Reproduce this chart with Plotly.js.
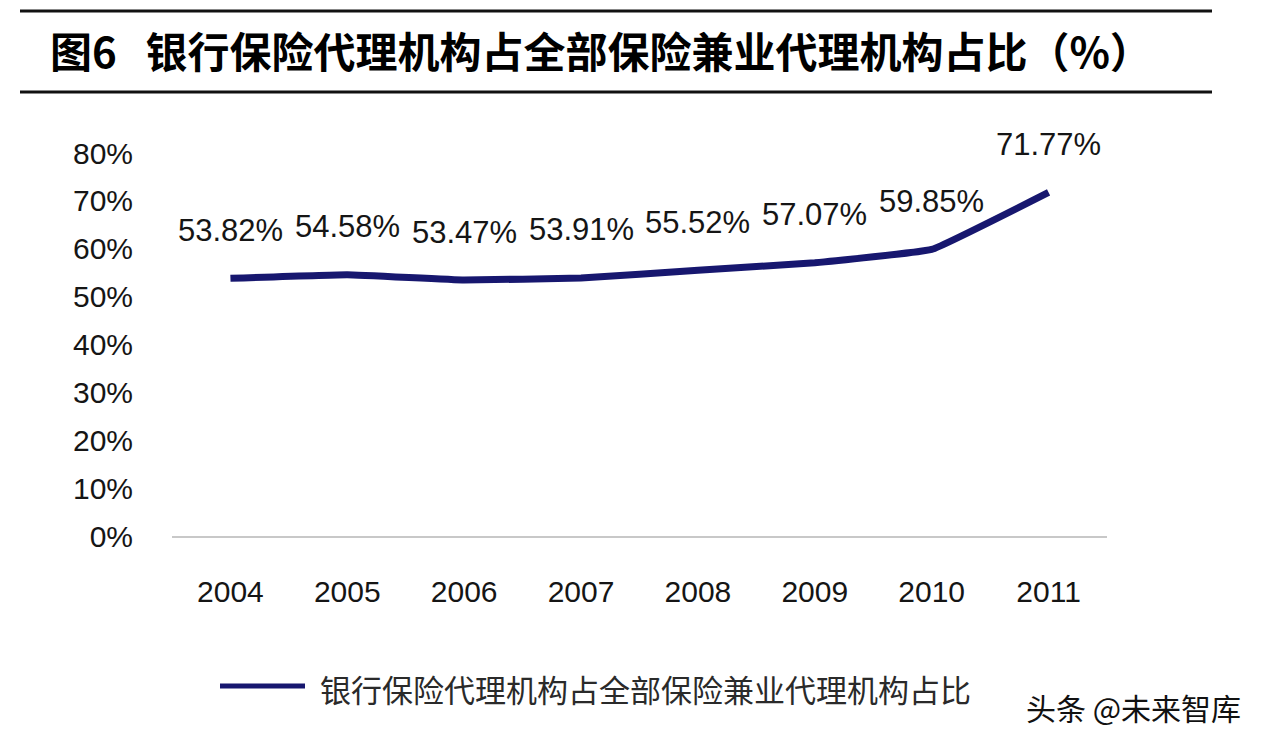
<!DOCTYPE html>
<html>
<head>
<meta charset="utf-8">
<script src="https://cdn.plot.ly/plotly-3.0.1.min.js"></script>
<style>html,body{margin:0;padding:0;background:#fff;}#chart{width:1280px;height:742px;}</style>
</head>
<body>
<div id="chart"></div>
<script>
// ---- data ----
const years = ['2004','2005','2006','2007','2008','2009','2010','2011'];
const shares = [53.82, 54.58, 53.47, 53.91, 55.52, 57.07, 59.85, 71.77];
const seriesName = '银行保险代理机构占全部保险兼业代理机构占比';
const chartTitle = '图6&nbsp;&nbsp; 银行保险代理机构占全部保险兼业代理机构占比（%）';
const yTicks = [0, 10, 20, 30, 40, 50, 60, 70, 80];
const watermark = '头条 @未来智库';

// ---- layout helpers ----
const W = 1280, H = 742;
const M = {l: 172, r: 173, t: 153, b: 206};
const PW = W - M.l - M.r, PH = H - M.t - M.b;
const px = x => (x - M.l) / PW;
const py = y => (H - M.b - y) / PH;

const lineColor = '#17176f';
const latin = 'Liberation Sans, Arial, sans-serif';
const cjk = 'Noto Sans CJK SC, sans-serif';

const trace = {
  x: years, y: shares, type: 'scatter', mode: 'lines', name: seriesName,
  line: {color: lineColor, width: 7, shape: 'spline', smoothing: 0.25},
  showlegend: false, hoverinfo: 'skip'
};

const annotations = years.map((yr, i) => ({
  x: i, y: shares[i], xref: 'x', yref: 'y', yshift: 48,
  text: shares[i].toFixed(2) + '%', showarrow: false,
  font: {family: latin, size: 31, color: '#151515'}
}));
annotations.push({
  x: px(318), y: py(688), xref: 'paper', yref: 'paper', xanchor: 'left', yanchor: 'middle',
  text: seriesName, showarrow: false,
  font: {family: cjk, size: 31, color: '#2a2a2a'}
});
annotations.push({
  x: px(1024), y: py(707), xref: 'paper', yref: 'paper', xanchor: 'left', yanchor: 'middle',
  text: watermark, showarrow: false,
  font: {family: cjk, size: 30, color: '#111'}
});

const shapes = [
  {type: 'line', xref: 'paper', yref: 'paper', x0: px(20), x1: px(1212), y0: py(11), y1: py(11), line: {color: '#111', width: 3}},
  {type: 'line', xref: 'paper', yref: 'paper', x0: px(20), x1: px(1212), y0: py(92), y1: py(92), line: {color: '#111', width: 3}},
  {type: 'line', xref: 'paper', yref: 'paper', x0: px(220), x1: px(305), y0: py(686), y1: py(686), line: {color: lineColor, width: 5}}
];

const layout = {
  width: W, height: H,
  margin: M,
  paper_bgcolor: '#ffffff', plot_bgcolor: '#ffffff',
  title: {
    text: '<b>' + chartTitle + '</b>',
    x: 50 / W, xanchor: 'left', xref: 'container',
    y: 1 - 53 / H, yanchor: 'middle', yref: 'container',
    font: {family: cjk, size: 42, color: '#000'}
  },
  xaxis: {
    type: 'category', range: [-0.5, 7.5], fixedrange: true,
    showgrid: false, zeroline: false,
    showline: true, linecolor: '#c8c8c8', linewidth: 1.5,
    ticks: '', ticklabelstandoff: 28,
    tickfont: {family: latin, size: 30, color: '#151515'}
  },
  yaxis: {
    range: [0, 80], fixedrange: true,
    tickvals: yTicks, ticktext: yTicks.map(v => v + '%'),
    showgrid: false, zeroline: false, showline: false,
    ticks: '', ticklabelstandoff: 38,
    tickfont: {family: latin, size: 30, color: '#151515'}
  },
  annotations: annotations,
  shapes: shapes,
  showlegend: false
};

Plotly.newPlot('chart', [trace], layout, {displayModeBar: false, staticPlot: true});
</script>
</body>
</html>
